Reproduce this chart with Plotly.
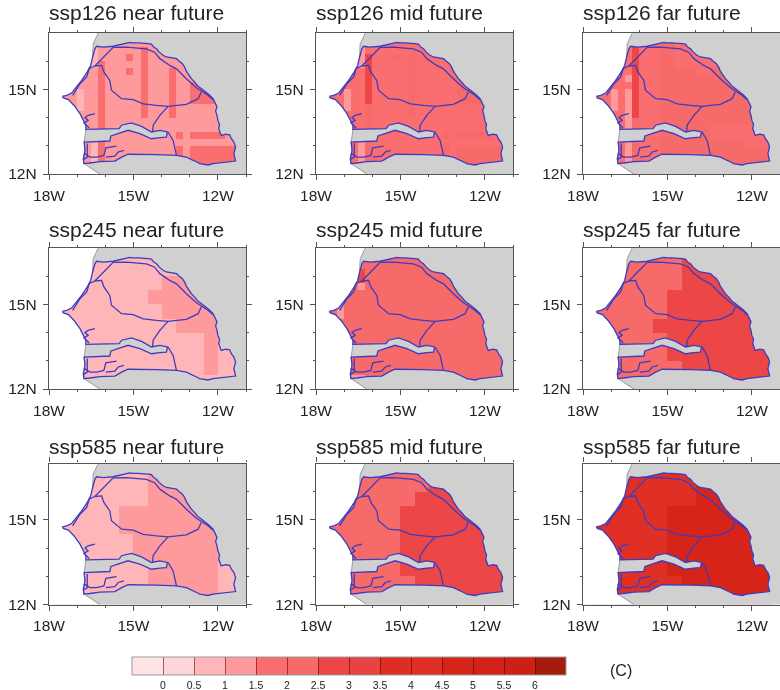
import plotly.graph_objects as go
from plotly.subplots import make_subplots

# bin colours of the shared scale, lowest bin first
bin_colors = ["#FFE4E4", "#FFD6D8", "#FFB6B8", "#FF9A9C", "#FB6E70", "#F76A6A", "#EC4646",
              "#E94242", "#DE2E24", "#E03026", "#D62418", "#D2231A", "#CA2016", "#A31C0E"]
bin_ticks = [0, 0.5, 1, 1.5, 2, 2.5, 3, 3.5, 4, 4.5, 5, 5.5, 6]
bin_labels = ["0", "0.5", "1", "1.5", "2", "2.5", "3", "3.5", "4", "4.5", "5", "5.5", "6"]

lon_centers = [-17.625 + 0.25 * i for i in range(26)]
lat_centers = [16.875 - 0.25 * i for i in range(20)]

# warming bin per grid cell (hex digit = bin index), rows from 17N down to 12N
ssp126_near = [
 "33333 23333 33333 33333 33333 3", "33333 23333 33333 33333 33333 3",
 "33333 23333 33433 33333 33333 3", "33333 23333 43433 33333 33333 3",
 "33333 24333 33433 33333 33333 3", "33333 34333 43433 34333 33333 3",
 "33333 34333 33433 34333 33333 3", "33333 34333 33433 34334 44433 3",
 "33323 34333 33433 34334 44433 3", "33323 34333 33433 34334 44433 3",
 "33323 34333 33433 34333 33333 3", "33333 34333 33433 34333 33333 3",
 "33333 34333 33333 33333 33333 3", "33333 34333 33333 33333 33333 3",
 "33333 33333 33333 33434 44443 3", "33333 24333 33333 33333 33333 3",
 "33333 24333 33333 33434 44444 4", "33333 24333 33333 33434 44444 4",
 "33333 24333 33333 33344 44444 4", "33333 33333 33333 33344 44444 4"]
ssp126_mid = [
 "44444 34444 44444 44444 44444 4", "44444 34444 44444 44444 44444 4",
 "44444 34444 44444 44444 44444 4", "44444 36444 54544 44444 44444 4",
 "44444 36444 44544 44444 44444 4", "44444 46444 44544 44444 44444 4",
 "44444 46444 44544 44444 44444 4", "44444 46444 44544 44445 55544 4",
 "44434 46444 44544 44445 55544 4", "44434 46444 44544 44445 55544 4",
 "44434 45444 44544 44444 44444 4", "44444 45444 44544 44444 44444 4",
 "44444 45444 44444 44444 44444 4", "44444 45444 44444 44444 44444 4",
 "44444 44444 44444 44545 55554 4", "44444 35444 44444 44444 44444 4",
 "44444 35444 44444 44545 55555 5", "44444 35444 44444 44545 55555 5",
 "44444 35444 44444 44455 55555 5", "44444 44444 44444 44455 55555 5"]
ssp126_far = [
 "44444 44444 55444 44444 44444 4", "44444 44444 55444 44444 44444 4",
 "44444 46444 55444 44444 44444 4", "44444 46444 55444 44444 44444 4",
 "44444 46444 55444 44444 44444 4", "44444 46444 55555 44555 55555 5",
 "44444 36444 55555 55555 55555 5", "44444 46444 55555 55555 55555 5",
 "44434 36444 55555 55555 55555 5", "44434 36444 55555 55555 55555 5",
 "44434 36444 55555 55555 55555 5", "44444 36444 55555 55555 55555 5",
 "44444 35444 55555 55555 55555 5", "44444 35444 55555 55444 44444 4",
 "44444 34444 55555 55444 44444 4", "44444 35444 55555 55555 55444 4",
 "44444 35444 55555 55555 55555 5", "44444 35444 55555 55555 55555 5",
 "44444 35444 55555 55555 55555 5", "44444 44444 55555 55555 55555 5"]
ssp245_near = [
 "22222 22222 22222 22222 22222 2", "22222 22222 22222 22222 22222 2",
 "22222 22222 22222 22222 22222 2", "22222 22222 22222 22222 22222 2",
 "22222 22222 22222 33333 33333 3", "22222 22222 22222 33333 33333 3",
 "22222 22222 22233 33333 33333 3", "22222 22222 22233 33333 33333 3",
 "22222 22222 22222 33333 33333 3", "22222 22222 22222 33333 33333 3",
 "22222 22222 22222 22333 33333 3", "22222 22222 22222 22333 33333 3",
 "22222 22222 22222 22222 23322 2", "22222 22222 22222 22222 23322 2",
 "22222 22222 22222 22222 23322 2", "22222 22222 22222 22222 23322 2",
 "22222 22222 22222 22222 23322 2", "22222 22222 22222 22222 23322 2",
 "22222 22222 22222 22222 22222 2", "22222 22222 22222 22222 22222 2"]
ssp245_mid = [
 "55555 55555 55555 55555 55555 5", "55555 55555 55555 55555 55555 5",
 "55555 55555 55555 55555 55555 5", "55555 65555 55555 55555 55555 5",
 "55555 65555 55555 55555 55555 5", "55555 35555 55555 55555 55555 5",
 "55555 55555 55555 55555 55555 5", "55555 55555 55555 55555 55555 5",
 "55355 55555 55555 55555 55555 5", "55355 55555 55555 55555 55555 5",
 "55555 55555 55555 55555 55555 5", "55555 55555 55555 55555 55555 5",
 "55555 55555 55555 55555 55555 5", "55555 55555 55555 55555 55555 5",
 "55555 55555 55555 55555 55555 5", "55555 55555 55555 55555 55555 5",
 "55555 55555 55555 55555 55555 5", "55555 55555 55555 55555 55555 5",
 "55553 35555 55555 55555 55555 5", "55553 35555 55555 55555 55555 5"]
ssp245_far = [
 "55555 55555 55566 66666 66666 6", "55555 55555 55566 66666 66666 6",
 "55555 55555 55566 66666 66666 6", "55555 55555 55566 66666 66666 6",
 "55555 55555 55566 66666 66666 6", "55555 55555 55566 66666 66666 6",
 "55555 55555 56666 66666 66666 6", "55555 55555 56666 66666 66666 6",
 "55555 55555 56666 66666 66666 6", "55555 55555 56666 66666 66666 6",
 "55555 55556 66666 66666 66666 6", "55555 55556 66666 66666 66666 6",
 "55555 55555 56666 66666 66666 6", "55555 55555 56666 66666 66666 6",
 "55555 55555 56666 66666 66666 6", "55555 55555 56666 66666 66666 6",
 "55555 55555 55566 66666 66666 6", "55555 55555 55566 66666 66666 6",
 "55555 55555 55566 66666 66666 6", "55555 55555 55566 66666 66666 6"]
ssp585_near = [
 "22222 22222 22233 33333 33333 3", "22222 22222 22233 33333 33333 3",
 "22222 22222 22233 33333 33333 3", "22222 22222 22233 33333 33333 3",
 "22222 22222 22233 33333 33333 3", "22222 22222 22233 33333 33333 3",
 "22222 22223 33333 33333 33333 3", "22222 22223 33333 33333 33333 3",
 "22222 22223 33333 33333 33333 3", "22222 22223 33333 33333 33333 3",
 "22222 22222 23333 33333 33333 3", "22222 22222 23333 33333 33333 3",
 "22222 22222 23333 33333 33333 3", "22222 22222 23333 33333 33333 3",
 "22222 22222 22233 33333 33322 2", "22222 22222 22233 33333 33322 2",
 "22222 22222 22233 33333 33322 2", "22222 22222 22233 33333 33322 2",
 "22222 22222 22233 33333 33322 2", "22222 22222 22233 33333 33322 2"]
ssp585_mid = [
 "55555 55555 55555 55555 55555 5", "55555 55555 55555 55555 55555 5",
 "55555 55555 55555 55555 55555 5", "55555 55555 55555 66666 66666 6",
 "55555 55555 55566 66666 66666 6", "55555 55555 55566 66666 66666 6",
 "55555 55555 56666 66666 66666 6", "55555 55555 56666 66666 66666 6",
 "55555 55555 56666 66666 66666 6", "55555 55555 56666 66666 66666 6",
 "55555 55555 56666 66666 66666 6", "55555 55555 56666 66666 66666 6",
 "55555 55555 56666 66666 66666 6", "55555 55555 56666 66666 66666 6",
 "55555 55555 56666 66666 66666 6", "55555 55555 56666 66666 66666 6",
 "55555 55555 55566 66666 66666 6", "55555 55555 55566 66666 66666 6",
 "55555 55555 55566 66666 66666 6", "55555 55555 55566 66666 66666 6"]
ssp585_far = [
 "99999 99999 99999 aaaaa aaaaa a", "99999 99999 99999 aaaaa aaaaa a",
 "99999 99999 99999 aaaaa aaaaa a", "99999 99999 99999 aaaaa aaaaa a",
 "99999 99999 99999 aaaaa aaaaa a", "99999 99999 99999 aaaaa aaaaa a",
 "99999 99999 9aaaa aaaaa aaaaa a", "99999 99999 9aaaa aaaaa aaaaa a",
 "99999 99999 9aaaa aaaaa aaaaa a", "99999 99999 9aaaa aaaaa aaaaa a",
 "99999 99999 9aaaa aaaaa aaaaa a", "99999 99999 9aaaa aaaaa aaaaa a",
 "99999 99999 9aaaa aaaaa aaaaa a", "99999 99999 9aaaa aaaaa aaaaa a",
 "99999 99999 9aaaa aaaaa aaaaa a", "99999 99999 9aaaa aaaaa aaaaa a",
 "99999 99999 999aa aaaaa aaaaa a", "99999 99999 999aa aaaaa aaaaa a",
 "99999 99999 999aa aaaaa aaaaa a", "99999 99999 999aa aaaaa aaaaa a"]

panel_titles = ["ssp126 near future", "ssp126 mid future", "ssp126 far future",
                "ssp245 near future", "ssp245 mid future", "ssp245 far future",
                "ssp585 near future", "ssp585 mid future", "ssp585 far future"]
panel_grids = [ssp126_near, ssp126_mid, ssp126_far, ssp245_near, ssp245_mid, ssp245_far,
               ssp585_near, ssp585_mid, ssp585_far]

# Senegal outline (degrees)
senegal_lon = [-17.53, -17.37, -17.20, -17.04, -16.84, -16.64, -16.52, -16.45, -16.37, -16.31,
               -16.07, -15.72, -15.42, -15.13, -15.01, -14.83, -14.48, -14.36, -14.28, -14.18, -14.09, -13.95, -13.83,
               -13.71, -13.59, -13.47, -13.38, -13.26, -13.18, -13.12, -13.02, -12.94, -12.82, -12.70, -12.59, -12.47,
               -12.31, -12.17, -12.11, -12.03, -12.08, -12.03, -12.00, -11.94, -11.97, -11.88,
               -11.72, -11.58, -11.52, -11.43, -11.37, -11.43, -11.37, -11.70, -12.05, -12.17, -12.35, -12.53, -12.65, -12.70, -13.12, -13.47,
               -14.18, -15.19, -15.42, -15.66, -16.19, -16.55, -16.76, -16.78, -16.72, -16.75,
               -15.84, -15.80, -15.19, -14.77, -14.36, -14.06, -13.83, -13.79, -14.06, -14.36,
               -14.71, -15.07, -15.42, -15.51, -16.69, -16.69, -16.90, -17.11, -17.31, -17.49, -17.53]
senegal_lat = [14.75, 14.79, 14.87, 15.06, 15.32, 15.62, 15.85, 16.15, 16.44, 16.53,
               16.50, 16.53, 16.60, 16.67, 16.65, 16.65, 16.62, 16.61, 16.50, 16.44, 16.33, 16.21, 16.15,
               16.13, 16.13, 16.09, 16.01, 15.91, 15.79, 15.65, 15.50, 15.38, 15.26, 15.11, 15.03, 14.94,
               14.81, 14.67, 14.52, 14.38, 14.23, 14.08, 13.90, 13.76, 13.61, 13.37,
               13.41, 13.39, 13.25, 13.13, 12.96, 12.72, 12.46, 12.43, 12.40, 12.37, 12.32, 12.34, 12.37, 12.40, 12.60, 12.66,
               12.69, 12.70, 12.60, 12.46, 12.44, 12.39, 12.37, 12.54, 12.84, 13.13,
               13.17, 13.35, 13.55, 13.43, 13.25, 13.29, 13.31, 13.49, 13.55, 13.49,
               13.69, 13.81, 13.73, 13.61, 13.58, 13.73, 14.14, 14.43, 14.64, 14.70, 14.75]

# open sea west of the coast
sea_lon = [-18.5, -16.13, -16.25, -16.43, -16.45, -16.52, -16.64, -16.84, -17.04, -17.20, -17.37, -17.53,
           -17.49, -17.31, -17.11, -16.90, -16.69, -16.69, -16.75, -16.72, -16.78, -16.76, -16.19, -15.5, -18.5]
sea_lat = [17.5, 17.5, 17, 16.62, 16.15, 15.85, 15.62, 15.32, 15.06, 14.87, 14.79, 14.75,
           14.70, 14.64, 14.43, 14.14, 13.73, 13.58, 13.13, 12.84, 12.54, 12.37, 12.0, 11.5, 11.5]

# region boundaries and rivers
inner_lon = [-16.37, -16.07, -15.72, -15.25, -14.54, -14.25, -14.06, -13.71, -13.47, -13.12, -12.76, -12.35, -12.17, None,
             -16.37, -16.13, -16.05, -15.84, -15.78, -15.42, -15.01, -14.65, -14.18, -13.77, -13.12, -12.70, -12.59, None,
             -13.77, -14.06, -14.30, -14.32, None,
             -13.77, -13.59, -13.47, None,
             -16.37, -16.57, -16.66, -16.90, -17.16, None,
             -16.37, -16.61, -16.72, -16.61, -16.76, -16.57, None,
             -16.76, -16.55, -16.31, -16.05, -15.98, -15.60, None,
             -15.98, -15.66, -15.54, -15.34, None,
             -16.64, -16.64, -16.78]
inner_lat = [15.83, 16.15, 16.49, 16.50, 16.44, 16.32, 16.09, 15.85, 15.73, 15.38, 15.06, 14.79, 14.63, None,
             15.83, 15.85, 15.62, 15.32, 14.97, 14.67, 14.64, 14.49, 14.43, 14.40, 14.47, 14.67, 14.91, None,
             14.40, 14.08, 13.73, 13.49, None,
             13.49, 13.19, 12.66, None,
             15.83, 15.74, 15.44, 15.20, 14.79, None,
             14.14, 14.08, 14.00, 13.90, 13.81, 13.63, None,
             12.74, 12.60, 12.60, 12.66, 12.93, 12.99, None,
             12.60, 12.63, 12.78, 12.84, None,
             13.08, 12.60, 12.51]

W, H = 780, 690
col_left = [49, 316, 583]
col_width = 197
row_top = [33, 248, 463.5]
row_height = 141
title_y = [12, 230, 446]
border_blue = "#3C3CC0"
frame = "#555555"
ink = "#222222"

n = len(bin_colors)
scale = []
for i, c in enumerate(bin_colors):
    scale += [[i / n, c], [(i + 1) / n, c]]

fig = make_subplots(rows=3, cols=3)
for k, (title, grid) in enumerate(zip(panel_titles, panel_grids)):
    r, c = k // 3, k % 3
    z = [[-0.25 + 0.5 * int(ch, 16) for ch in row.replace(" ", "")] for row in grid]
    pos = dict(row=r + 1, col=c + 1)
    fig.add_trace(go.Heatmap(x=lon_centers, y=lat_centers, z=z, coloraxis="coloraxis",
                             hoverinfo="skip"), **pos)
    # land mask: frame with the country cut out
    mask_lon = [-18.5, -18.5, -10.5, -10.5, -18.5, None] + senegal_lon
    mask_lat = [17.5, 11.5, 11.5, 17.5, 17.5, None] + senegal_lat
    fig.add_trace(go.Scatter(x=mask_lon, y=mask_lat, mode="lines", fill="toself",
                             fillcolor="#D0D0D0", line=dict(width=0), hoverinfo="skip"), **pos)
    fig.add_trace(go.Scatter(x=sea_lon, y=sea_lat, mode="lines", fill="toself",
                             fillcolor="#FFFFFF", line=dict(width=0), hoverinfo="skip"), **pos)
    fig.add_trace(go.Scatter(x=sea_lon[2:5], y=sea_lat[2:5], mode="lines",
                             line=dict(color="#8A8A8A", width=0.8), hoverinfo="skip"), **pos)
    fig.add_trace(go.Scatter(x=sea_lon[-8:-2], y=sea_lat[-8:-2], mode="lines",
                             line=dict(color="#8A8A8A", width=0.8), hoverinfo="skip"), **pos)
    fig.add_trace(go.Scatter(x=inner_lon, y=inner_lat, mode="lines",
                             line=dict(color=border_blue, width=1.3), hoverinfo="skip"), **pos)
    fig.add_trace(go.Scatter(x=senegal_lon, y=senegal_lat, mode="lines",
                             line=dict(color=border_blue, width=1.3), hoverinfo="skip"), **pos)
    xd = [col_left[c] / W, (col_left[c] + col_width) / W]
    yd = [1 - (row_top[r] + row_height) / H, 1 - row_top[r] / H]
    fig.update_xaxes(domain=xd, range=[-18, -11], tickvals=[-18, -15, -12],
                     ticktext=["18W", "15W", "12W"], ticks="outside", ticklen=5, tickwidth=1.2,
                     tickcolor=frame, showline=True, linecolor=frame, linewidth=1.4, mirror="allticks",
                     ticklabelstandoff=2, showgrid=False, zeroline=False,
                     tickfont=dict(family="Liberation Sans", size=15.5, color=ink),
                     minor=dict(tickvals=[-17, -16, -14, -13, -11], ticks="outside", ticklen=2,
                                tickcolor=frame, tickwidth=1), **pos)
    fig.update_yaxes(domain=yd, range=[12, 17], tickvals=[12, 15], ticktext=["12N", "15N"],
                     ticks="outside", ticklen=5, tickwidth=1.2, tickcolor=frame, showline=True,
                     linecolor=frame, linewidth=1.4, mirror="allticks", ticklabelstandoff=3,
                     showgrid=False, zeroline=False,
                     tickfont=dict(family="Liberation Sans", size=15.5, color=ink),
                     minor=dict(tickvals=[13, 14, 16], ticks="outside", ticklen=2,
                                tickcolor=frame, tickwidth=1), **pos)
    fig.add_annotation(text=title, xref="paper", yref="paper", x=(col_left[c] - 2) / W,
                       y=1 - title_y[r] / H, xanchor="left", yanchor="middle", showarrow=False,
                       font=dict(family="Liberation Sans", size=21, color=ink))

fig.add_annotation(text="(C)", xref="paper", yref="paper", x=621 / W, y=1 - 670 / H,
                   xanchor="center", yanchor="middle", showarrow=False,
                   font=dict(family="Liberation Sans", size=16, color=ink))

fig.update_layout(
    width=W, height=H, margin=dict(l=0, r=0, t=0, b=0, autoexpand=False), showlegend=False,
    paper_bgcolor="white", plot_bgcolor="white",
    coloraxis=dict(colorscale=scale, cmin=-0.5, cmax=6.5,
                   colorbar=dict(orientation="h", x=132 / W, xanchor="left", y=1 - 657 / H,
                                 yanchor="top", lenmode="pixels", len=434, thicknessmode="pixels",
                                 thickness=18, xpad=0, ypad=0, outlinecolor="#999999", outlinewidth=1,
                                 tickmode="array", tickvals=bin_ticks, ticktext=bin_labels,
                                 ticks="inside", ticklen=18, tickwidth=1, tickcolor="rgba(90,0,0,0.55)",
                                 tickfont=dict(family="Liberation Sans", size=10.5, color=ink))),
)
fig.write_html("out.html", config=dict(displayModeBar=False),
               post_script="document.body.style.margin='0';"
                           "document.querySelector('.plotly-graph-div').style.filter='blur(0.45px)';")
